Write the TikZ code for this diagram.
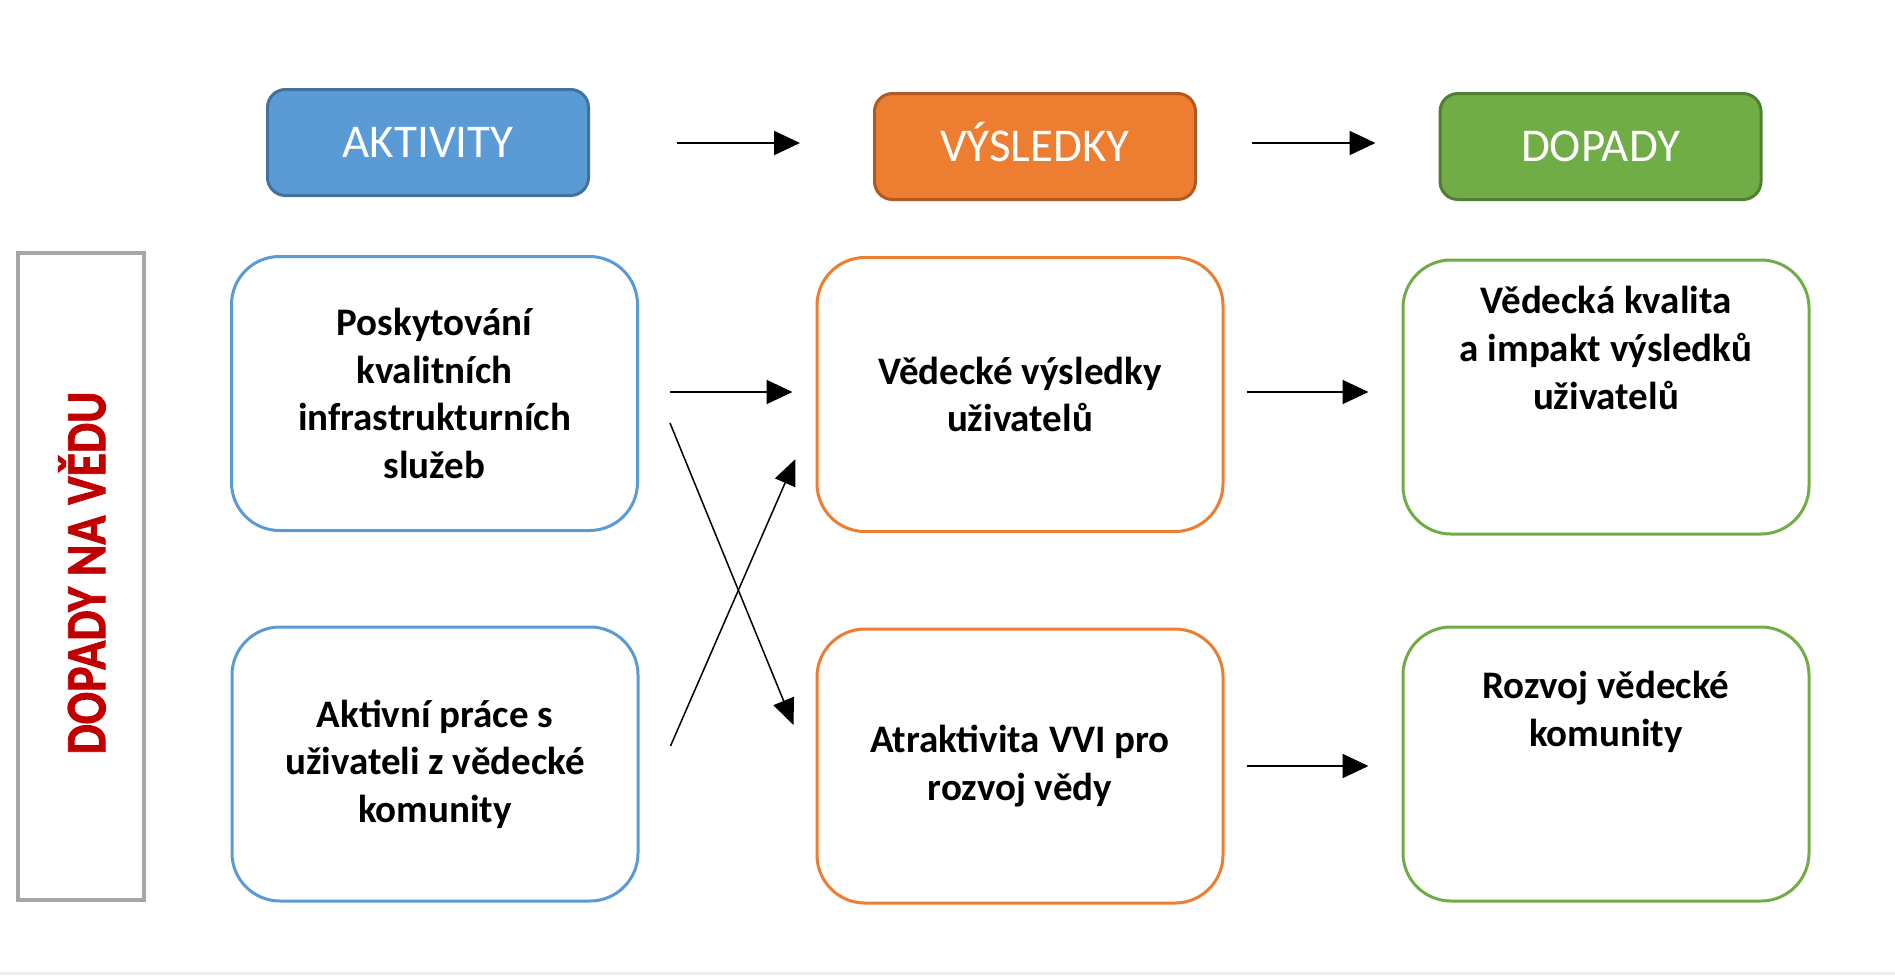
\documentclass[tikz,border=0pt]{standalone}
\usepackage{fontspec}
\setmainfont{Carlito}
\newfontfamily\sidefont[BoldFeatures={FakeBold=1.6}]{Carlito}
\usetikzlibrary{arrows.meta}
\definecolor{hblue}{HTML}{5B9BD5}
\definecolor{hblueD}{HTML}{41719C}
\definecolor{horange}{HTML}{ED7D31}
\definecolor{horangeD}{HTML}{AE5A21}
\definecolor{hgreen}{HTML}{70AD47}
\definecolor{hgreenD}{HTML}{507E32}
\definecolor{sidegrey}{HTML}{A6A6A6}
\definecolor{darkred}{HTML}{C00000}
\begin{document}
\begin{tikzpicture}[x=1pt,y=-1pt,
  hdr/.style={rectangle,rounded corners=18pt,line width=3pt,minimum width=321pt,minimum height=106pt,
    text=white,font=\fontsize{47}{55}\selectfont,inner sep=0pt,text height=30pt,text depth=0pt},
  card/.style={rectangle,rounded corners=48pt,line width=3pt,fill=white,minimum width=406pt,minimum height=274pt,
    inner sep=0pt,align=center,font=\fontsize{39}{47.6}\selectfont\bfseries},
  txt/.style={align=center,inner sep=0pt,font=\fontsize{39}{47.6}\selectfont\bfseries},
  bigarrow/.style={line width=2pt,-{Triangle[length=26pt,width=24pt]}},
  crossarrow/.style={line width=1.5pt,-{Triangle[length=26pt,width=22pt]}}]
\useasboundingbox (0,0) rectangle (1895,975);
\fill[white] (0,0) rectangle (1895,975);
\fill[black!7] (0,972) rectangle (1895,975);

% side label
\node[draw=sidegrey,line width=4pt,minimum width=126pt,minimum height=647pt,inner sep=0pt] (side) at (81,576.5) {};
\node[rotate=90,text=darkred,font=\fontsize{57}{60}\sidefont\bfseries,inner sep=0pt] (sidetxt) at (82,573) {\scalebox{0.84}[1]{DOPADY NA VĚDU}};

% headers
\node[hdr,fill=hblue,draw=hblueD] (akt) at (428,142.5) {AKTIVITY};
\node[hdr,fill=horange,draw=horangeD] (vys) at (1035,146.5) {VÝSLEDKY};
\node[hdr,fill=hgreen,draw=hgreenD] (dop) at (1600.5,146.5) {DOPADY};

% cards
\node[card,draw=hblue] (a1) at (434.5,393.5) {Poskytování\\kvalitních\\infrastrukturních\\služeb};
\node[card,draw=hblue] (a2) at (435,764) {Aktivní práce s\\uživateli z vědecké\\komunity};
\node[card,draw=horange] (v1) at (1020,394.5) {Vědecké výsledky\\uživatelů};
\node[card,draw=horange] (v2) at (1020,766) {Atraktivita VVI pro\\rozvoj vědy};
\node[card,draw=hgreen] (d1) at (1606,397) {};
\node[card,draw=hgreen] (d2) at (1606,764) {};
\node[txt] (d1t) at (1606,348) {Vědecká kvalita\\a impakt výsledků\\uživatelů};
\node[txt] (d2t) at (1606,712) {Rozvoj vědecké\\komunity};

% header arrows
\draw[bigarrow] ([xshift=87pt]akt.east|-0,143) -- ([xshift=-73pt]vys.west|-0,143);
\draw[bigarrow] ([xshift=55pt]vys.east|-0,143) -- ([xshift=-63pt]dop.west|-0,143);

% card arrows
\draw[bigarrow] ([xshift=31pt]a1.east|-0,392) -- ([xshift=-23pt]v1.west|-0,392);
\draw[bigarrow] ([xshift=22pt]v1.east|-0,392) -- ([xshift=-33pt]d1.west|-0,392);
\draw[bigarrow] ([xshift=22pt]v2.east|-0,766) -- ([xshift=-33pt]d2.west|-0,766);
\draw[crossarrow] ([xshift=31pt]a1.east|-0,423) -- ([xshift=-22pt]v2.west|-0,725);
\draw[crossarrow] ([xshift=31pt]a2.east|-0,746) -- ([xshift=-20pt]v1.west|-0,459);
\end{tikzpicture}
\end{document}
